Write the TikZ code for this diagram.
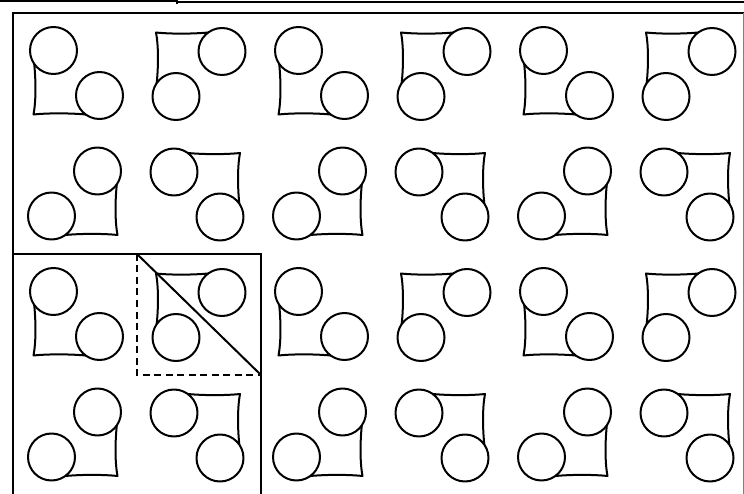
\documentclass[tikz,border=0pt]{standalone}
\usepackage{tikz}

\tikzset{
  ink/.style={line width=2pt, line cap=round, line join=round},
  frame/.style={line width=2.2pt},
  twocircles/.pic={
    \draw[ink] (-22,-23) circle (23.5);
    \draw[ink] (24,22) circle (23.5);
    \draw[ink] (-41.3,-9.5) .. controls (-39.5,8) and (-39.5,28) .. (-42,41)
      .. controls (-28,39.5) and (-6,39.5) .. (10.2,41);
  }
}

\begin{document}
\begin{tikzpicture}[x=1pt,y=-1pt]
  \useasboundingbox (0,0) rectangle (744,494);

  %% ---- Rest of the figure above ----
  \draw[line width=2.6pt] (0,1) -- (177,1);
  \draw[line width=1.4pt] (177,2) -- (744,2);
  \draw[line width=1.6pt] (177,0) -- (177,4);

  %% ---- Outer frame ----
  \draw[frame] (13,494) -- (13,13) -- (744,13);
  \draw[line width=1pt,gray] (743,13) -- (743,494);

  %% ---- The pattern: 2x2 block repeated 3x2 times ----
  \foreach \bx in {0,1,2} {
    \foreach \by in {0,1} {
      \pic at ({75.5+\bx*245},{73.5+\by*241}) {twocircles};
      \pic[yscale=-1] at ({198+\bx*245},{73.5+\by*241}) {twocircles};
      \pic[xscale=-1] at ({75.5+\bx*245},{194+\by*241}) {twocircles};
      \pic[scale=-1] at ({198+\bx*245},{194+\by*241}) {twocircles};
    }
  }

  %% ---- Unit cell and fundamental region ----
  \coordinate (celltl) at (13,254);
  \coordinate (celltr) at (261,254);
  \coordinate (cellbr) at (261,494);
  \coordinate (regtl) at (137,254);
  \coordinate (regbl) at (137,375);
  \coordinate (regbr) at (261,375);

  \draw[frame] (celltl) -- (celltr) -- (cellbr);
  \draw[frame,dash pattern=on 7pt off 4.5pt] (regtl) -- (regbl) -- (regbr);
  \draw[ink] (regtl) -- (regbr);

\end{tikzpicture}
\end{document}
